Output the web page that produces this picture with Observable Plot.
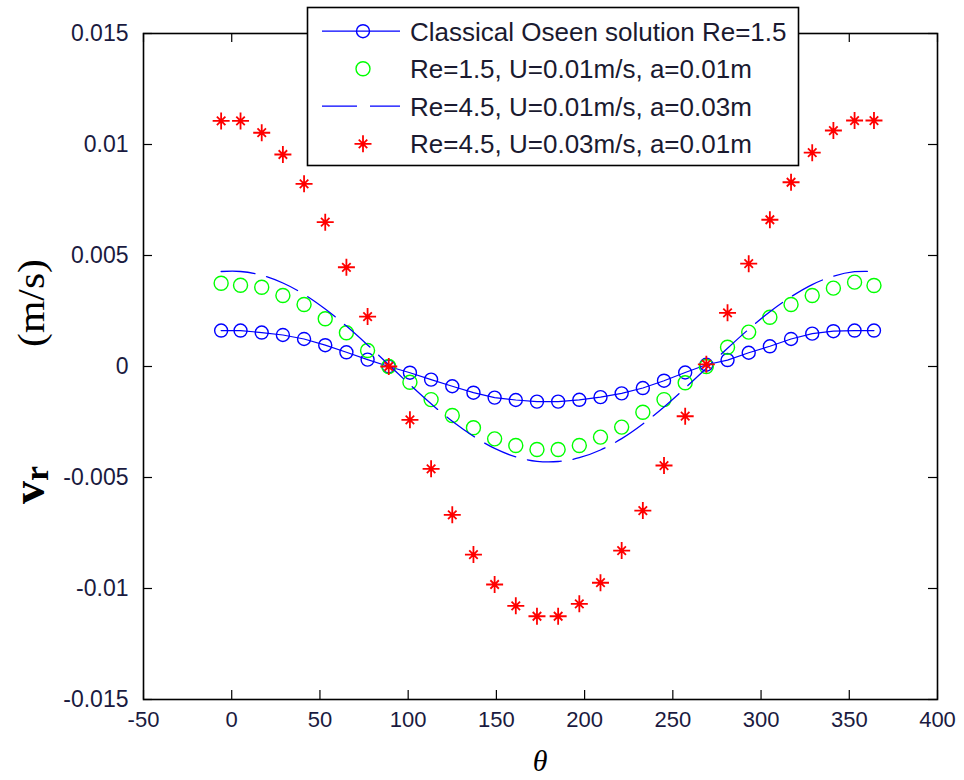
<!DOCTYPE html>
<html><head><meta charset="utf-8">
<script src="https://cdn.jsdelivr.net/npm/d3@7"></script>
<script src="https://cdn.jsdelivr.net/npm/@observablehq/plot@0.6"></script>
<style>
body{margin:0;background:#fff;}
#chart{position:relative;width:964px;height:780px;}
#chart svg{display:block;}
</style></head><body><div id="chart"></div>
<script>
// ---- data ----
const theta = [-6, 5, 17, 29, 41, 53, 65, 77, 89, 101, 113, 125, 137, 149, 161, 173, 185, 197, 209, 221, 233, 245, 257, 269, 281, 293, 305, 317, 329, 341, 353, 364];
const oseenRe15 = [0.00162, 0.00162, 0.00153, 0.00142, 0.00124, 0.00096, 0.00064, 0.00031, 0.0, -0.00028, -0.00059, -0.00089, -0.00118, -0.0014, -0.00151, -0.00158, -0.00158, -0.0015, -0.00138, -0.00121, -0.00097, -0.00064, -0.00027, 0.00008, 0.00029, 0.00062, 0.00091, 0.00124, 0.00148, 0.00159, 0.00162, 0.00162];
const simRe15 = [0.00375, 0.00366, 0.00357, 0.0032, 0.00279, 0.00215, 0.00152, 0.00072, 0.0, -0.00071, -0.00149, -0.00221, -0.00276, -0.00326, -0.00356, -0.00374, -0.00374, -0.00356, -0.00318, -0.00273, -0.00206, -0.00149, -0.00073, 0.0, 0.00087, 0.00155, 0.00222, 0.00279, 0.0032, 0.00353, 0.0038, 0.00365];
const simRe45a = [0.00428, 0.00428, 0.00411, 0.00376, 0.00325, 0.00259, 0.00182, 0.00097, 0.00008, -0.00082, -0.00168, -0.00247, -0.00314, -0.00369, -0.00407, -0.00427, -0.00428, -0.00411, -0.00376, -0.00325, -0.00259, -0.00182, -0.00097, -0.00008, 0.00082, 0.00168, 0.00247, 0.00314, 0.00369, 0.00407, 0.00427, 0.00428];
const simRe45U = [0.01106, 0.01106, 0.01053, 0.00955, 0.00823, 0.0065, 0.00447, 0.00225, 0.0, -0.0024, -0.00461, -0.00668, -0.00847, -0.00982, -0.01078, -0.01125, -0.01125, -0.01069, -0.00974, -0.00829, -0.00649, -0.00446, -0.00224, 0.0001, 0.00242, 0.00463, 0.00661, 0.0083, 0.00963, 0.01063, 0.01108, 0.01108];
const xTicks = [-50, 0, 50, 100, 150, 200, 250, 300, 350, 400];
const xTickLabels = ["-50", "0", "50", "100", "150", "200", "250", "300", "350", "400"];
const yTicks = [-0.015, -0.01, -0.005, 0, 0.005, 0.01, 0.015];
const yTickLabels = ["-0.015", "-0.01", "-0.005", "0", "0.005", "0.01", "0.015"];
const seriesNames = ["Classical Oseen solution Re=1.5", "Re=1.5, U=0.01m/s, a=0.01m", "Re=4.5, U=0.01m/s, a=0.03m", "Re=4.5, U=0.03m/s, a=0.01m"];
const xLabel = "θ";

// ---- layout ----
const W = 964, H = 780, mL = 143, mR = 27, mT = 33, mB = 81;
const iw = W - mL - mR, ih = H - mT - mB;
const BLUE = "#0000ff", GREEN = "#00ff00", RED = "#ff0000";

const rows = theta.map((t, i) => ({t, a: oseenRe15[i], b: simRe15[i], c: simRe45a[i], d: simRe45U[i]}));
const xLab = new Map(xTicks.map((v, i) => [v, xTickLabels[i]]));
const yLab = new Map(yTicks.map((v, i) => [v, yTickLabels[i]]));

// MATLAB-style '*' marker: plus with shorter diagonals
const star = {
  draw(ctx, size) {
    const r = Math.sqrt(size / Math.PI);
    const d = r * 0.5;
    ctx.moveTo(-r, 0); ctx.lineTo(r, 0);
    ctx.moveTo(0, -r); ctx.lineTo(0, r);
    ctx.moveTo(-d, -d); ctx.lineTo(d, d);
    ctx.moveTo(-d, d); ctx.lineTo(d, -d);
  }
};

const plot = Plot.plot({
  width: W, height: H,
  marginLeft: mL, marginRight: mR, marginTop: mT, marginBottom: mB,
  x: {domain: [-50, 400]},
  y: {domain: [-0.015, 0.015]},
  style: {fontFamily: "'Liberation Sans', Arial, sans-serif", background: "white", color: "black"},
  marks: [
    // inward ticks on all four sides
    Plot.tickY(yTicks, {y: d => d, insetRight: iw - 9, stroke: "black", strokeWidth: 1.2}),
    Plot.tickY(yTicks, {y: d => d, insetLeft: iw - 9, stroke: "black", strokeWidth: 1.2}),
    Plot.tickX(xTicks, {x: d => d, insetTop: ih - 9, stroke: "black", strokeWidth: 1.2}),
    Plot.tickX(xTicks, {x: d => d, insetBottom: ih - 9, stroke: "black", strokeWidth: 1.2}),
    Plot.axisY(yTicks, {tickSize: 0, tickPadding: 15, tickFormat: d => yLab.get(d), fontSize: 23, label: null, fill: "#1a1a40"}),
    Plot.axisX(xTicks, {tickSize: 0, tickPadding: 12, tickFormat: d => xLab.get(d), fontSize: 22, label: null, fill: "#1a1a40"}),
    // series 1: Oseen line with circles
    Plot.line(rows, {x: "t", y: "a", stroke: BLUE, strokeWidth: 1.2}),
    Plot.dot(rows, {x: "t", y: "a", r: 6.5, stroke: BLUE, strokeWidth: 1.4, fill: "none"}),
    // series 2: green circles
    Plot.dot(rows, {x: "t", y: "b", r: 7, stroke: GREEN, strokeWidth: 1.4, fill: "none"}),
    // series 3: dashed blue
    Plot.line(rows, {x: "t", y: "c", stroke: BLUE, strokeWidth: 1.3, strokeDasharray: "34,12", curve: "catmull-rom"}),
    // series 4: red stars
    Plot.dot(rows, {x: "t", y: "d", r: 8.5, symbol: star, stroke: RED, strokeWidth: 1.8, fill: "none"}),
    Plot.frame({stroke: "black", strokeWidth: 1.6})
  ]
});
document.getElementById("chart").appendChild(plot);

const svg = d3.select(plot);

// x label
svg.append("text")
  .attr("x", 540).attr("y", 771)
  .attr("text-anchor", "middle")
  .style("font-family", "'Liberation Serif', 'DejaVu Serif', serif")
  .style("font-style", "italic")
  .style("font-size", "30px")
  .text(xLabel);

// y label: v_r   (m/s)
const vr = svg.append("text")
  .attr("transform", "translate(44,504) rotate(-90)")
  .attr("text-anchor", "start")
  .style("font-family", "'Liberation Serif', 'DejaVu Serif', serif")
  .style("font-weight", "bold")
  .style("font-size", "46px");
vr.append("tspan").text("v");
vr.append("tspan").attr("dy", 4).style("font-size", "34px").text("r");

svg.append("text")
  .attr("transform", "translate(44,347) rotate(-90)")
  .attr("text-anchor", "start")
  .attr("textLength", 88).attr("lengthAdjust", "spacingAndGlyphs")
  .style("font-family", "'Liberation Serif', 'DejaVu Serif', serif")
  .style("font-size", "38px")
  .text("(m/s)");

// legend
const lg = svg.append("g");
lg.append("rect").attr("x", 307.5).attr("y", 7.5).attr("width", 491).attr("height", 158)
  .attr("fill", "white").attr("stroke", "black").attr("stroke-width", 1.6);
const rowY = [31.2, 68.8, 106.2, 143.8];
const sx0 = 322, sx1 = 400, mx = 363;
// row 1
lg.append("line").attr("x1", sx0).attr("x2", sx1).attr("y1", rowY[0]).attr("y2", rowY[0]).attr("stroke", BLUE).attr("stroke-width", 1.2);
lg.append("circle").attr("cx", mx).attr("cy", rowY[0]).attr("r", 6.5).attr("fill", "none").attr("stroke", BLUE).attr("stroke-width", 1.4);
// row 2
lg.append("circle").attr("cx", mx).attr("cy", rowY[1]).attr("r", 7).attr("fill", "none").attr("stroke", GREEN).attr("stroke-width", 1.4);
// row 3
lg.append("line").attr("x1", sx0).attr("x2", sx1).attr("y1", rowY[2]).attr("y2", rowY[2]).attr("stroke", BLUE).attr("stroke-width", 1.3).attr("stroke-dasharray", "35,13");
// row 4
lg.append("path").attr("transform", `translate(${mx},${rowY[3]})`)
  .attr("d", d3.symbol(star, Math.PI * 8.5 * 8.5)())
  .attr("fill", "none").attr("stroke", RED).attr("stroke-width", 1.8);
seriesNames.forEach((name, i) => {
  lg.append("text").attr("x", 410).attr("y", rowY[i] + 9.5)
    .attr("text-anchor", "start")
    .style("font-family", "'Liberation Sans', Arial, sans-serif")
    .style("font-size", "26px").attr("fill", "#1a1a30")
    .text(name);
});
</script>
</body></html>
